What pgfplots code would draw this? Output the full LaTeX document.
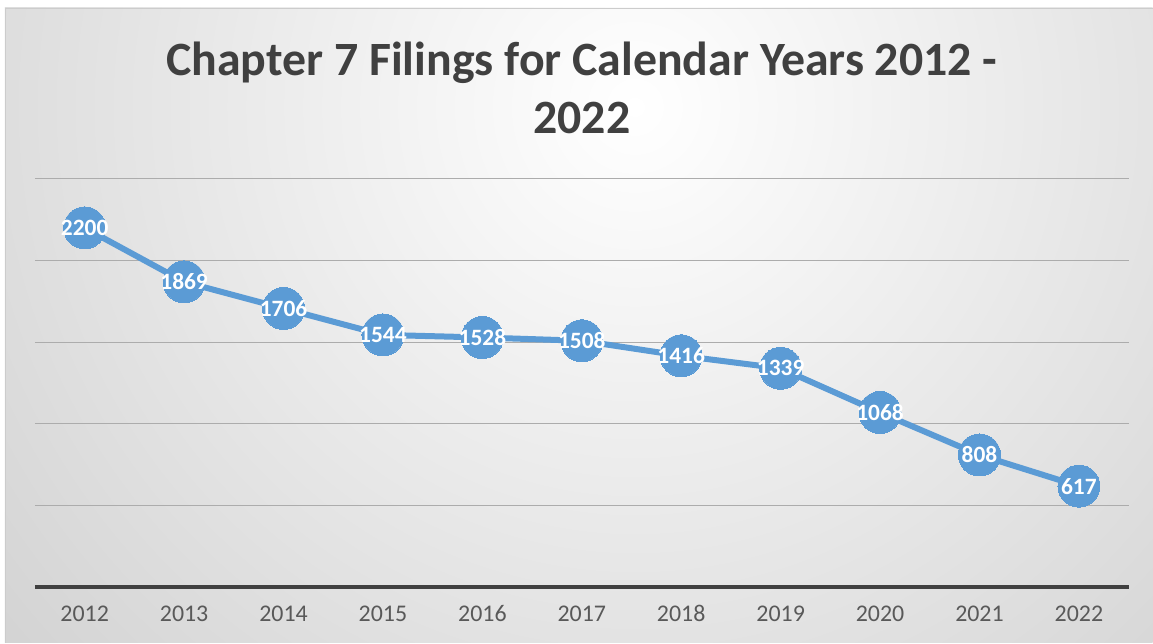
\documentclass[border=0pt]{standalone}
\usepackage{fontspec}
\setmainfont{Carlito}
\usepackage{pgfplots}
\pgfplotsset{compat=1.18}
\definecolor{ser}{HTML}{5B9BD5}
\definecolor{txt}{HTML}{595959}
\definecolor{ttl}{HTML}{404040}
\begin{document}
\begin{tikzpicture}[x=1bp,y=1bp]
% background (pixel -> bp: x-35, 587-y)
\fill[white] (-35,-56) rectangle (1118,587);
\begin{scope}
\clip (-30,-56) rectangle (1118,579);
\shade[inner color=white, outer color=gray!62] (600,480) circle (1500);
\end{scope}
\draw[gray!40, line width=0.8bp] (-30,-56) -- (-30,579) -- (1118,579);
\begin{axis}[
  scale only axis,
  width=1094bp, height=408bp,
  xmin=-0.5, xmax=10.5, ymin=0, ymax=2500,
  axis line style={draw=none},
  ytick={500,1000,1500,2000,2500},
  yticklabels={},
  ymajorgrids,
  grid style={gray!65, line width=1bp},
  extra y ticks={0},
  extra y tick labels={},
  extra y tick style={grid style={ttl, line width=3.5bp}},
  xtick={0,...,10},
  xticklabels={2012,2013,2014,2015,2016,2017,2018,2019,2020,2021,2022},
  xticklabel style={font=\fontsize{24}{26}\selectfont, text=txt, anchor=base, yshift=-35bp},
  major tick length=0pt,
  /pgf/number format/assume math mode=true,
  /pgf/number format/1000 sep={},
  clip=false,
]
\addplot[ser, line width=6bp, mark=*, mark size=21bp, mark options={fill=ser, draw=ser, line width=0pt},
  nodes near coords, nodes near coords align={center},
  every node near coord/.append style={anchor=center, text=white, font=\bfseries\fontsize{23.5}{25}\selectfont}]
coordinates {(0,2200) (1,1869) (2,1706) (3,1544) (4,1528) (5,1508) (6,1416) (7,1339) (8,1068) (9,808) (10,617)};
\node[align=center, text=ttl, font=\bfseries\fontsize{48}{58}\selectfont] at (rel axis cs:0.5,1) [yshift=91bp] {Chapter 7 Filings for Calendar Years 2012 -\\2022};
\end{axis}
\end{tikzpicture}
\end{document}
